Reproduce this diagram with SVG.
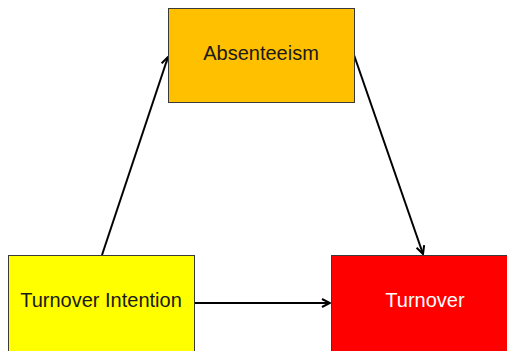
<svg xmlns="http://www.w3.org/2000/svg" width="507" height="351" viewBox="0 0 507 351">
<defs>
<style>
.box{stroke:#3a3a3a;stroke-width:1}
.lbl{font-family:"Liberation Sans",Arial,sans-serif;font-size:20px;text-anchor:middle;fill:#1a1a1a}
.conn{stroke:#000;stroke-width:2;fill:none;marker-end:url(#ah)}
</style>
<marker id="ah" viewBox="0 0 10 10" refX="9" refY="5" markerWidth="5" markerHeight="5" orient="auto" markerUnits="strokeWidth">
<path d="M1,1 L9,5 L1,9" fill="none" stroke="#000" stroke-width="2"/>
</marker>
</defs>
<rect width="507" height="351" fill="#fff"/>
<g id="connectors">
<line class="conn" x1="102" y1="255" x2="168" y2="57"/>
<line class="conn" x1="354" y1="55" x2="423" y2="254"/>
<line class="conn" x1="195" y1="303" x2="330" y2="303"/>
</g>
<g id="absenteeism">
<rect class="box" x="168.5" y="8.5" width="186" height="94" fill="#FFC000"/>
<text class="lbl" x="261" y="60">Absenteeism</text>
</g>
<g id="turnover-intention">
<rect class="box" x="8.5" y="255.5" width="186" height="110" fill="#FFFF00"/>
<text class="lbl" x="101" y="307">Turnover Intention</text>
</g>
<g id="turnover">
<rect class="box" x="331.5" y="255.5" width="186" height="110" fill="#FF0000"/>
<text class="lbl" x="425" y="307" style="fill:#fff">Turnover</text>
</g>
</svg>
